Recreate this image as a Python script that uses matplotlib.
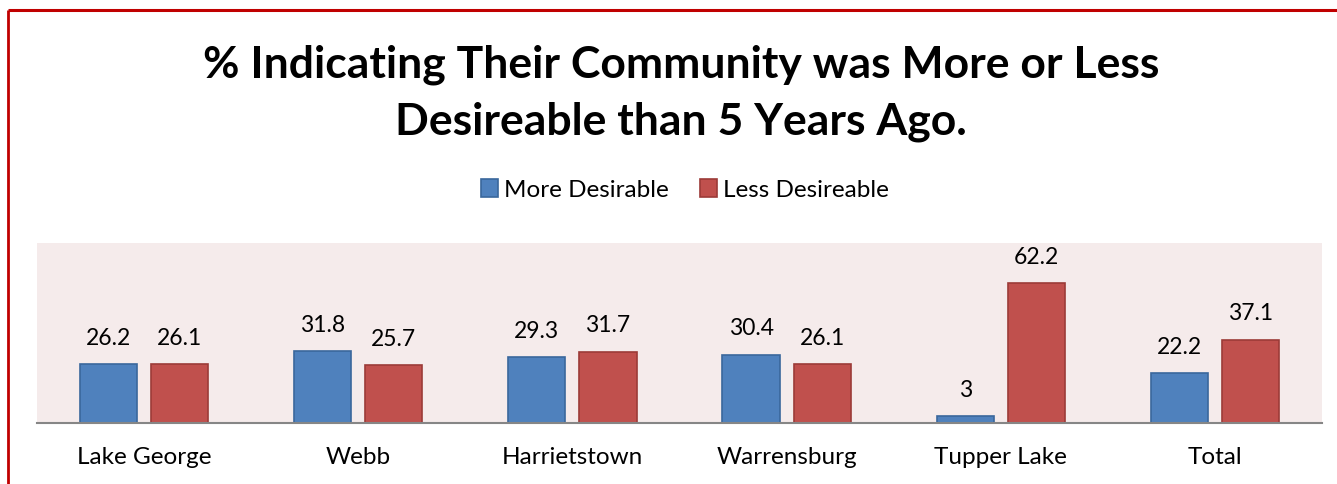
import matplotlib
matplotlib.use("Agg")
import matplotlib.pyplot as plt
import numpy as np
from matplotlib.lines import Line2D

categories = ["Lake George", "Webb", "Harrietstown", "Warrensburg", "Tupper Lake", "Total"]
more_desirable = [26.2, 31.8, 29.3, 30.4, 3, 22.2]
less_desireable = [26.1, 25.7, 31.7, 26.1, 62.2, 37.1]
series_names = ["More Desirable", "Less Desireable"]

W, H = 1337, 484
fig = plt.figure(figsize=(W / 100, H / 100), dpi=100)
plt.rcParams['font.family'] = ['Lato', 'DejaVu Sans']

# red outer border (partially cropped)
fig.add_artist(Line2D([8 / W, 8 / W], [-0.05, 1 - 10 / H], transform=fig.transFigure, color="#C00000",
                      lw=2, solid_capstyle="butt"))
fig.add_artist(Line2D([8 / W, 1.05], [1 - 10 / H, 1 - 10 / H], transform=fig.transFigure, color="#C00000",
                      lw=2.2, solid_capstyle="butt"))

x0, x1, ytop, ybase = 37, 1322, 243, 423
ax = fig.add_axes([x0 / W, 1 - ybase / H, (x1 - x0) / W, (ybase - ytop) / H])
ax.set_facecolor("#F5EBEB")

x = np.arange(len(categories))
bw = 0.267
off = (bw + 0.065) / 2
b1 = ax.bar(x - off, more_desirable, bw, color="#4F81BD", edgecolor="#3A679C", lw=1.2, label=series_names[0])
b2 = ax.bar(x + off, less_desireable, bw, color="#C0504D", edgecolor="#9C3B38", lw=1.2, label=series_names[1])

for bars, vals in ((b1, more_desirable), (b2, less_desireable)):
    for rect, v in zip(bars, vals):
        ax.annotate(f"{v:g}", (rect.get_x() + rect.get_width() / 2, v), xytext=(0, 11),
                    textcoords="offset points", ha="center", va="bottom", fontsize=16.5, color="#000000")

ax.set_xlim(-0.5, len(categories) - 0.5)
ax.set_ylim(0, 80)
ax.set_yticks([])
ax.set_xticks(x)
ax.set_xticklabels(categories, fontsize=17.5)
ax.tick_params(axis="x", length=0, pad=17)
for s in ["top", "right", "left"]:
    ax.spines[s].set_visible(False)
ax.spines["bottom"].set_color("#868686")
ax.spines["bottom"].set_linewidth(1.5)

fig.text(681 / W, 1 - 93 / H, "% Indicating Their Community was More or Less\nDesireable than 5 Years Ago.",
         ha="center", va="center", fontsize=32, fontweight="bold", linespacing=1.5)

fig.legend(handles=[b1, b2], labels=series_names, loc="center", bbox_to_anchor=(685 / W, 1 - 190 / H),
           ncol=2, frameon=False, fontsize=17.5, handlelength=0.7, handleheight=0.7,
           handletextpad=0.25, columnspacing=1.3)

fig.savefig("out.png", dpi=100)
